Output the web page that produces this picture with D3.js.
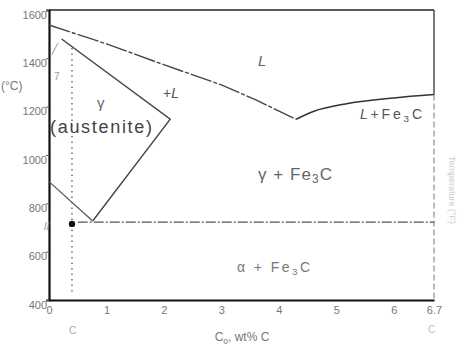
<!DOCTYPE html>
<html>
<head>
<meta charset="utf-8">
<script src="https://cdn.jsdelivr.net/npm/d3@7"></script>
<style>
  body { margin: 0; background: #fff; }
  svg { display: block; font-family: "Liberation Sans", Arial, sans-serif; }
</style>
</head>
<body>
<div id="chart"></div>
<script>
// tick labels
const tempTicks = [400, 600, 800, 1000, 1200, 1400, 1600];
const compTicks = [0, 1, 2, 3, 4, 5, 6, 6.7];

// phase boundaries [wt% C, T in C]
const liquidusLeft = [[0, 1538], [1, 1460], [1.9, 1382], [3, 1290], [3.6, 1228], [4.3, 1148]];
const liquidusRight = [[4.3, 1148], [4.6, 1180], [5.2, 1213], [6, 1236], [6.7, 1250]];
const solidusGamma = [[0.22, 1480], [2.11, 1148], [0.76, 727]];
const a3Line = [[0, 890], [0.76, 727]];
const deltaBit = [[0.16, 1465], [0.05, 1415]];
const eutectoid = [[0.5, 722], [6.7, 722]];
const alloyLine = [[0.4, 1443], [0.4, 429]];
const alloyPoint = [0.4, 715];

const W = 458, H = 347;
const svg = d3.select('#chart').append('svg').attr('width', W).attr('height', H);

const x = d3.scaleLinear().domain([0, 6.7]).range([49, 434]);
const y = d3.scaleLinear().domain([400, 1600]).range([300, 10]);
const line = d3.line().x(d => x(d[0])).y(d => y(d[1]));

// frame
svg.append('line').attr('x1', x(0)).attr('x2', x(6.7)).attr('y1', y(1600)).attr('y2', y(1600))
  .attr('stroke', '#222').attr('stroke-width', 1.6);
svg.append('line').attr('x1', x(6.7)).attr('x2', x(6.7)).attr('y1', y(1600)).attr('y2', y(1250))
  .attr('stroke', '#333').attr('stroke-width', 1.3);
svg.append('line').attr('x1', x(6.7)).attr('x2', x(6.7)).attr('y1', y(1250)).attr('y2', y(400))
  .attr('stroke', '#777').attr('stroke-width', 1).attr('stroke-dasharray', '6,3');

// axes
const yAxis = svg.append('g').attr('transform', `translate(${x(0)},0)`)
  .call(d3.axisLeft(y).tickValues(tempTicks).tickSize(3).tickFormat(d3.format('d')));
const xAxis = svg.append('g').attr('transform', `translate(0,${y(400)})`)
  .call(d3.axisBottom(x).tickValues(compTicks).tickSize(0).tickFormat(d => String(d)));
yAxis.select('.domain').attr('stroke', '#111').attr('stroke-width', 2.2);
xAxis.select('.domain').attr('stroke', '#111').attr('stroke-width', 2.2);
yAxis.selectAll('.tick line').attr('stroke', '#555');
yAxis.selectAll('.tick text').attr('fill', '#777').attr('font-size', 11).attr('dy', '0.75em').attr('x', -2);
xAxis.selectAll('.tick text').attr('fill', '#777').attr('font-size', 11).attr('dy', '1em');

// phase boundaries
svg.append('path').attr('d', line(liquidusLeft)).attr('fill', 'none')
  .attr('stroke', '#444').attr('stroke-width', 1.4).attr('stroke-dasharray', '22,2,4,2');
svg.append('path').attr('d', d3.line().curve(d3.curveMonotoneX).x(d => x(d[0])).y(d => y(d[1]))(liquidusRight))
  .attr('fill', 'none').attr('stroke', '#333').attr('stroke-width', 1.5);
svg.append('path').attr('d', line(solidusGamma)).attr('fill', 'none')
  .attr('stroke', '#444').attr('stroke-width', 1.4);
svg.append('path').attr('d', line(a3Line)).attr('fill', 'none')
  .attr('stroke', '#555').attr('stroke-width', 1.2);
svg.append('path').attr('d', line(deltaBit)).attr('fill', 'none')
  .attr('stroke', '#999').attr('stroke-width', 1);
svg.append('path').attr('d', line(eutectoid)).attr('fill', 'none')
  .attr('stroke', '#555').attr('stroke-width', 1.3).attr('stroke-dasharray', '10,2,2,2');
svg.append('path').attr('d', line(alloyLine)).attr('fill', 'none')
  .attr('stroke', '#666').attr('stroke-width', 1.4).attr('stroke-dasharray', '1.5,4');
svg.append('circle').attr('cx', x(alloyPoint[0])).attr('cy', y(alloyPoint[1])).attr('r', 3.2).attr('fill', '#111');

// labels
function label(tx, ty, size, fill, parts, anchor, len) {
  const t = svg.append('text').attr('x', tx).attr('y', ty).attr('font-size', size)
    .attr('fill', fill).attr('text-anchor', anchor || 'start');
  if (len) t.attr('textLength', len).attr('lengthAdjust', 'spacing');
  parts.forEach(p => {
    const s = t.append('tspan').text(p.t);
    if (p.i) s.attr('font-style', 'italic');
    if (p.sub) s.attr('font-size', size * 0.7).attr('dy', 3);
    if (p.up) s.attr('dy', -3);
  });
  return t;
}
label(258, 66, 15, '#666', [{ t: 'L', i: 1 }]);
label(163, 98, 14, '#555', [{ t: '+' }, { t: 'L', i: 1 }]);
label(97, 108, 15, '#666', [{ t: 'γ' }]);
label(50, 133, 18, '#444', [{ t: '(austenite)' }], 'start', 102);
label(258, 180, 17, '#666', [{ t: 'γ + Fe' }, { t: '3', sub: 1 }, { t: 'C', up: 1 }], 'start', 74);
label(237, 272, 14, '#777', [{ t: 'α + Fe' }, { t: '3', sub: 1 }, { t: 'C', up: 1 }], 'start', 73);
label(360, 119, 14, '#555', [{ t: 'L', i: 1 }, { t: '+Fe' }, { t: '3', sub: 1 }, { t: 'C', up: 1 }], 'start', 62);
label(242, 341, 12, '#777', [{ t: 'C' }, { t: 'o', sub: 1 }, { t: ', wt% C', up: 1 }], 'middle');
label(1, 90, 12, '#777', [{ t: '(°C)' }]);
label(54, 80, 10, '#999', [{ t: '7' }]);
label(44, 230, 10, '#888', [{ t: '//' }]);
label(69, 334, 10, '#aaa', [{ t: 'C' }]);
label(428, 333, 10, '#bbb', [{ t: 'C' }]);
svg.append('text').attr('transform', 'translate(449,190) rotate(90)').attr('text-anchor', 'middle')
  .attr('font-size', 9).attr('fill', '#ccc').text('Temperature (°F)');
</script>
</body>
</html>
